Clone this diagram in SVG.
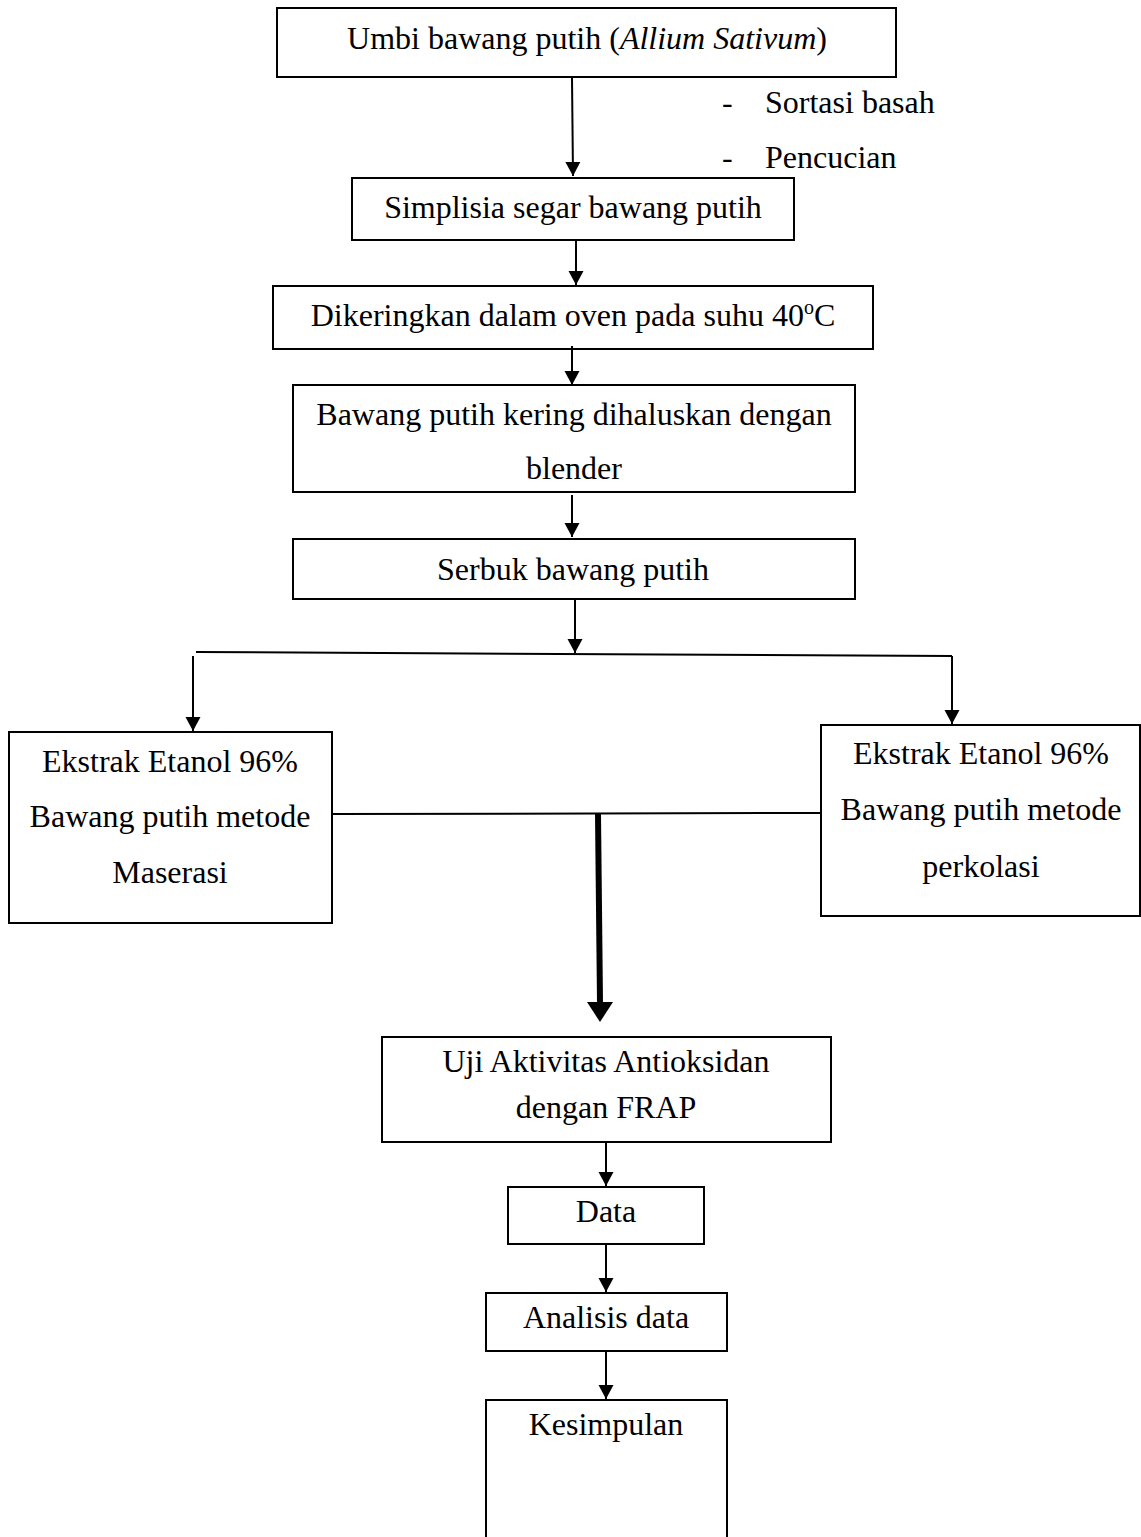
<svg xmlns="http://www.w3.org/2000/svg" width="1141" height="1537" viewBox="0 0 1141 1537">
<style>
  .box { fill: #ffffff; stroke: #000000; stroke-width: 2; }
  .t { font-family: "Liberation Serif", "Times New Roman", serif; font-size: 32px; fill: #000000; text-anchor: middle; }
  .tl { font-family: "Liberation Serif", "Times New Roman", serif; font-size: 32px; fill: #000000; }
  .ln { fill: none; stroke: #000000; stroke-width: 2; }
  .ar { fill: none; stroke: #000000; stroke-width: 2; marker-end: url(#ah); }
</style>
<defs>
  <marker id="ah" markerUnits="userSpaceOnUse" markerWidth="15" markerHeight="16" refX="14" refY="8" orient="auto">
    <path d="M0,0.5 L14,8 L0,15.5 z" fill="#000000"/>
  </marker>
</defs>
<rect x="0" y="0" width="1141" height="1537" fill="#ffffff"/>

<g id="n1">
  <rect class="box" x="277" y="8" width="619" height="69"/>
  <text class="t" x="587" y="49">Umbi bawang putih (<tspan font-style="italic">Allium Sativum</tspan>)</text>
</g>
<g id="note">
  <text class="tl" x="722" y="113">-</text>
  <text class="tl" x="765" y="113">Sortasi basah</text>
  <text class="tl" x="722" y="168">-</text>
  <text class="tl" x="765" y="168">Pencucian</text>
</g>
<g id="n2">
  <rect class="box" x="352" y="178" width="442" height="62"/>
  <text class="t" x="573" y="218">Simplisia segar bawang putih</text>
</g>
<g id="n3">
  <rect class="box" x="273" y="286" width="600" height="63"/>
  <text class="t" x="573" y="326">Dikeringkan dalam oven pada suhu 40<tspan font-size="20" dy="-12">o</tspan><tspan dy="12">C</tspan></text>
</g>
<g id="n4">
  <rect class="box" x="293" y="385" width="562" height="107"/>
  <text class="t" x="574" y="425">Bawang putih kering dihaluskan dengan</text>
  <text class="t" x="574" y="479">blender</text>
</g>
<g id="n5">
  <rect class="box" x="293" y="539" width="562" height="60"/>
  <text class="t" x="573" y="580">Serbuk bawang putih</text>
</g>
<g id="n6">
  <rect class="box" x="9" y="732" width="323" height="191"/>
  <text class="t" x="170" y="772">Ekstrak Etanol 96%</text>
  <text class="t" x="170" y="827">Bawang putih metode</text>
  <text class="t" x="170" y="883">Maserasi</text>
</g>
<g id="n7">
  <rect class="box" x="821" y="725" width="319" height="191"/>
  <text class="t" x="981" y="764">Ekstrak Etanol 96%</text>
  <text class="t" x="981" y="820">Bawang putih metode</text>
  <text class="t" x="981" y="877">perkolasi</text>
</g>
<g id="n8">
  <rect class="box" x="382" y="1037" width="449" height="105"/>
  <text class="t" x="606" y="1072">Uji Aktivitas Antioksidan</text>
  <text class="t" x="606" y="1118">dengan FRAP</text>
</g>
<g id="n9">
  <rect class="box" x="508" y="1187" width="196" height="57"/>
  <text class="t" x="606" y="1222">Data</text>
</g>
<g id="n10">
  <rect class="box" x="486" y="1293" width="241" height="58"/>
  <text class="t" x="606" y="1328">Analisis data</text>
</g>
<g id="n11">
  <rect class="box" x="486" y="1400" width="241" height="145"/>
  <text class="t" x="606" y="1435">Kesimpulan</text>
</g>

<g id="connectors">
  <line class="ar" x1="572" y1="78" x2="573" y2="176"/>
  <line class="ar" x1="576" y1="241" x2="576" y2="285"/>
  <line class="ar" x1="572" y1="346" x2="572" y2="385"/>
  <line class="ar" x1="572" y1="495" x2="572" y2="537"/>
  <line class="ar" x1="575" y1="599" x2="575" y2="653"/>
  <line class="ln" x1="196" y1="652" x2="952" y2="656"/>
  <line class="ar" x1="193" y1="656" x2="193" y2="731"/>
  <line class="ar" x1="952" y1="656" x2="952" y2="724"/>
  <line class="ln" x1="332" y1="814" x2="821" y2="813"/>
  <line fill="none" stroke="#000000" stroke-width="6" x1="598" y1="814" x2="600" y2="1003"/>
  <polygon points="587,1002 613,1002 600,1022" fill="#000000"/>
  <line class="ar" x1="606" y1="1143" x2="606" y2="1186"/>
  <line class="ar" x1="606" y1="1245" x2="606" y2="1292"/>
  <line class="ar" x1="606" y1="1352" x2="606" y2="1399"/>
</g>
</svg>
